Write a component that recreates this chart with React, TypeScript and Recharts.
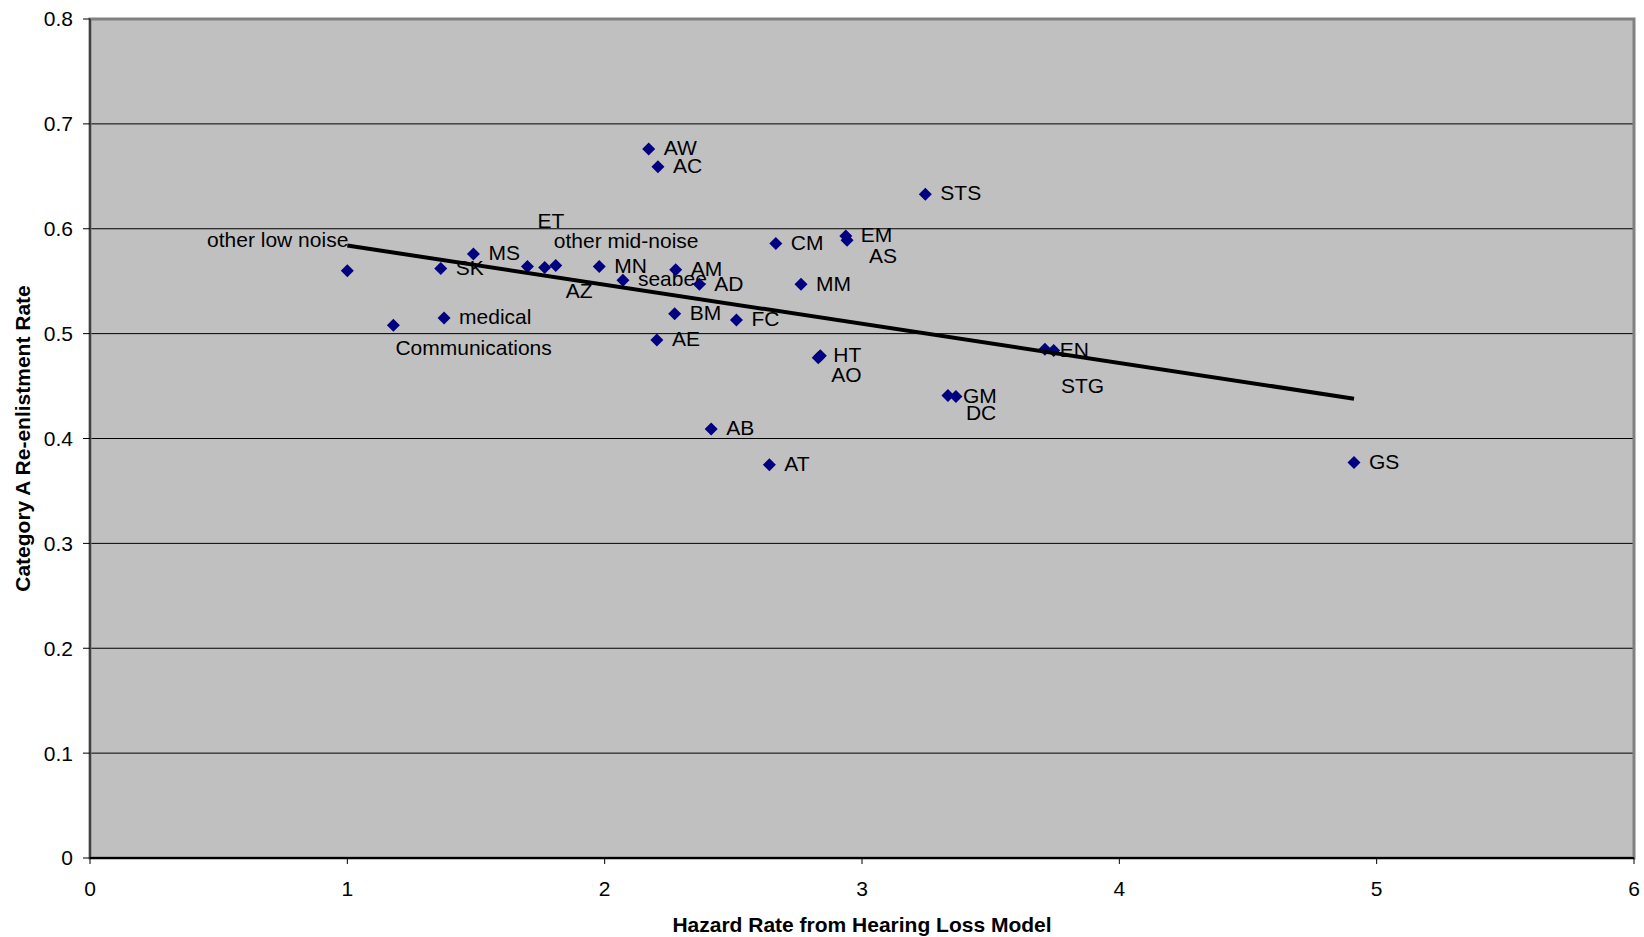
import React from 'react';
import { ScatterChart, Scatter, XAxis, YAxis, CartesianGrid, ReferenceArea } from 'recharts';

// trades
const trades = [
  'other low noise', 'Communications', 'SK', 'medical', 'MS', 'ET', 'AZ', 'other mid-noise',
  'MN', 'seabee', 'AW', 'AC', 'AE', 'AM', 'BM', 'AD', 'AB', 'FC', 'AT', 'CM', 'MM',
  'AO', 'HT', 'EM', 'AS', 'STS', 'DC', 'GM', 'STG', 'EN', 'GS'
];
const hazardRate = [
  1.0, 1.179, 1.363, 1.376, 1.49, 1.7, 1.767, 1.81,
  1.979, 2.071, 2.171, 2.207, 2.203, 2.276, 2.272, 2.368, 2.414, 2.512, 2.64, 2.665, 2.763,
  2.83, 2.838, 2.937, 2.942, 3.246, 3.334, 3.365, 3.711, 3.745, 4.912
];
const reenlistRate = [
  0.56, 0.508, 0.562, 0.515, 0.576, 0.564, 0.563, 0.565,
  0.564, 0.551, 0.676, 0.659, 0.494, 0.561, 0.519, 0.547, 0.409, 0.513, 0.375, 0.586, 0.547,
  0.477, 0.479, 0.593, 0.589, 0.633, 0.441, 0.44, 0.485, 0.484, 0.377
];

// linear trendline end points
const trendX = [1.0, 4.912];
const trendY = [0.584, 0.438];

const xTicks = [0, 1, 2, 3, 4, 5, 6];
const yTicks = [0, 0.1, 0.2, 0.3, 0.4, 0.5, 0.6, 0.7, 0.8];

// labels that were dragged away from the default right-hand spot
const defaultPlacement = { dx: 15, dy: -1, anchor: 'start' };
const labelPlacement: Record<string, { dx: number; dy: number; anchor?: string }> = {
  'other low noise': { dx: 1, dy: -31, anchor: 'end' },
  Communications: { dx: 2, dy: 22 },
  ET: { dx: 10, dy: -46 },
  'other mid-noise': { dx: -2, dy: -25 },
  AZ: { dx: 21, dy: 23 },
  HT: { dx: 13, dy: -1 },
  AO: { dx: 13, dy: 17 },
  AS: { dx: 22, dy: 15 },
  GM: { dx: 7, dy: -1 },
  DC: { dx: 18, dy: 17 },
  EN: { dx: 6, dy: -1 },
  STG: { dx: 16, dy: 36 },
};

const points = trades.map((name, i) => ({ name, x: hazardRate[i], y: reenlistRate[i] }));
const trend = trendX.map((x, i) => ({ x, y: trendY[i] }));

const FONT = '"Liberation Sans", Arial, sans-serif';

const DiamondWithLabel = (props: any) => {
  const { cx, cy, payload } = props;
  const p = { ...defaultPlacement, ...(labelPlacement[payload.name] || {}) };
  const r = 6.5;
  return (
    <g>
      <path d={`M${cx},${cy - r}L${cx + r},${cy}L${cx},${cy + r}L${cx - r},${cy}Z`} fill="#000080" />
      <text
        x={cx + p.dx}
        y={cy + p.dy}
        dy="0.35em"
        textAnchor={p.anchor as any}
        fontSize={21}
        fontFamily={FONT}
        fill="#000"
      >
        {payload.name}
      </text>
    </g>
  );
};

export default function App() {
  return (
    <div style={{ position: 'absolute', left: 0, top: 0, width: 1644, height: 937, background: '#fff', fontFamily: FONT }}>
      <ScatterChart width={1644} height={937} margin={{ top: 19, right: 10, left: 0, bottom: 0 }}>
        <CartesianGrid fill="#C0C0C0" vertical={false} stroke="#000" strokeOpacity={1} />
        <ReferenceArea x1={0} x2={6} y1={0} y2={0.8} fill="none" stroke="#808080" strokeWidth={3} ifOverflow="visible" />
        <XAxis
          type="number"
          dataKey="x"
          domain={[0, 6]}
          ticks={xTicks}
          height={79}
          tickSize={6}
          tickMargin={17}
          axisLine={{ stroke: '#000', strokeWidth: 2 }}
          tickLine={{ stroke: '#000' }}
          tick={{ fontSize: 21, fill: '#000', fontFamily: FONT }}
          label={{
            content: (lp: any) => {
              const vb = lp.viewBox;
              return (
                <text x={vb.x + vb.width / 2} y={925} textAnchor="middle" dy="0.35em" fontSize={21} fontWeight="bold" fontFamily={FONT} fill="#000">
                  Hazard Rate from Hearing Loss Model
                </text>
              );
            },
          }}
        />
        <YAxis
          type="number"
          dataKey="y"
          domain={[0, 0.8]}
          ticks={yTicks}
          width={90}
          tickSize={7}
          tickMargin={10}
          axisLine={{ stroke: '#000' }}
          tickLine={{ stroke: '#000' }}
          tick={{ fontSize: 21, fill: '#000', fontFamily: FONT }}
          label={{
            content: (lp: any) => {
              const vb = lp.viewBox;
              const cx = 23;
              const cy = vb.y + vb.height / 2;
              return (
                <text x={cx} y={cy} transform={`rotate(-90 ${cx} ${cy})`} textAnchor="middle" dy="0.35em" fontSize={21} fontWeight="bold" fontFamily={FONT} fill="#000">
                  Category A Re-enlistment Rate
                </text>
              );
            },
          }}
        />
        <Scatter data={points} shape={DiamondWithLabel} isAnimationActive={false} />
        <Scatter
          data={trend}
          line={{ stroke: '#000', strokeWidth: 4 }}
          shape={() => <g />}
          isAnimationActive={false}
        />
      </ScatterChart>
    </div>
  );
}
